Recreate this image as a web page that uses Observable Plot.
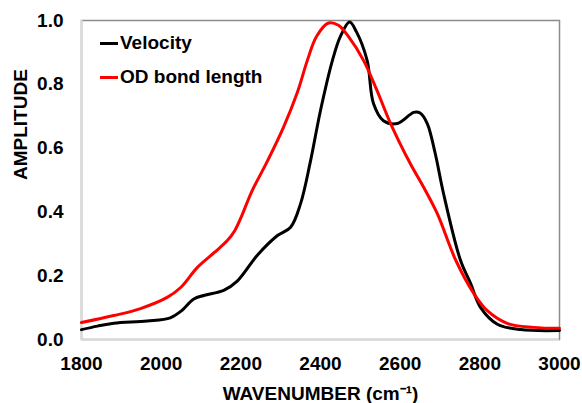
<!DOCTYPE html>
<html>
<head>
<meta charset="utf-8">
<script src="https://cdn.jsdelivr.net/npm/d3@7"></script>
<script src="https://cdn.jsdelivr.net/npm/@observablehq/plot@0.6"></script>
<style>
  html, body { margin: 0; padding: 0; background: #fff; }
  #wrap { position: relative; width: 582px; height: 403px; font-family: "Liberation Sans", Arial, sans-serif; }
  .leg { position: absolute; left: 100px; display: flex; align-items: center; font-weight: bold; font-size: 19px; color: #000; }
  .leg span.sw { display: inline-block; width: 18px; height: 3px; margin-right: 2px; }
</style>
</head>
<body>
<div id="wrap"></div>
<script>
const xTicks = [1800, 2000, 2200, 2400, 2600, 2800, 3000];
const yTicks = [0, 0.2, 0.4, 0.6, 0.8, 1.0];
const xLabel = "WAVENUMBER (cm⁻¹)";
const yLabel = "AMPLITUDE";
const seriesNames = ["Velocity", "OD bond length"];
const seriesColors = ["#000000", "#ff0000"];

const velocityX = [1800,1840,1881,1965,2023,2049,2082,2107,2157,2191,2242,2292,2325,2350,2375,2400,2430,2450,2473,2490,2517,2533,2558,2593,2634,2650,2668,2688,2709,2751,2777,2802,2844,2902,3000];
const velocityY = [0.031,0.042,0.051,0.058,0.068,0.088,0.127,0.138,0.154,0.183,0.265,0.326,0.352,0.426,0.56,0.718,0.875,0.95,0.995,0.965,0.875,0.74,0.686,0.677,0.712,0.71,0.677,0.583,0.457,0.25,0.175,0.10,0.048,0.031,0.028];

const odX = [1800,1881,1948,2015,2049,2091,2133,2166,2185,2203,2226,2267,2307,2342,2367,2390,2420,2445,2470,2508,2542,2576,2626,2659,2693,2739,2785,2818,2870,2935,3000];
const odY = [0.053,0.075,0.097,0.132,0.163,0.226,0.272,0.31,0.342,0.39,0.46,0.56,0.665,0.775,0.875,0.95,0.992,0.985,0.95,0.875,0.78,0.677,0.55,0.477,0.395,0.25,0.144,0.091,0.05,0.038,0.035];

const data = [
  ...velocityX.map((x, i) => ({x, y: velocityY[i], s: seriesNames[0]})),
  ...odX.map((x, i) => ({x, y: odY[i], s: seriesNames[1]}))
];

const chart = Plot.plot({
  width: 582,
  height: 403,
  marginLeft: 81,
  marginRight: 23,
  marginTop: 20,
  marginBottom: 64,
  style: { fontFamily: "Liberation Sans, Arial, sans-serif", fontSize: "19px", fontWeight: "bold", color: "#000", background: "#fff" },
  x: { domain: [1800, 3000], ticks: xTicks, tickFormat: "d", tickSize: 0, tickPadding: 17, label: null },
  y: { domain: [0, 1], ticks: yTicks, tickFormat: ".1f", tickSize: 0, tickPadding: 18, label: null },
  color: { domain: seriesNames, range: seriesColors },
  marks: [
    Plot.frame({ stroke: "#8c8c8c", strokeWidth: 1.5 }),
    Plot.ruleX([1800], { stroke: "#d9d9d9", strokeWidth: 2 }),
    Plot.ruleY([0], { stroke: "#d9d9d9", strokeWidth: 2 }),
    Plot.line(data, { x: "x", y: "y", z: "s", stroke: "s", strokeWidth: 3, curve: "catmull-rom" }),
    Plot.text([yLabel], { frameAnchor: "left", rotate: -90, dx: -61, fontSize: 19, fontWeight: "bold" }),
    Plot.text([xLabel], { frameAnchor: "bottom", dy: 60, lineAnchor: "bottom", fontSize: 19, fontWeight: "bold" })
  ]
});

const wrap = document.getElementById("wrap");
wrap.appendChild(chart);
const tops = [32, 66];
seriesNames.forEach((n, i) => {
  const d = document.createElement("div");
  d.className = "leg";
  d.style.top = tops[i] + "px";
  d.innerHTML = `<span class="sw" style="background:${seriesColors[i]}"></span><span>${n}</span>`;
  wrap.appendChild(d);
});
</script>
</body>
</html>
